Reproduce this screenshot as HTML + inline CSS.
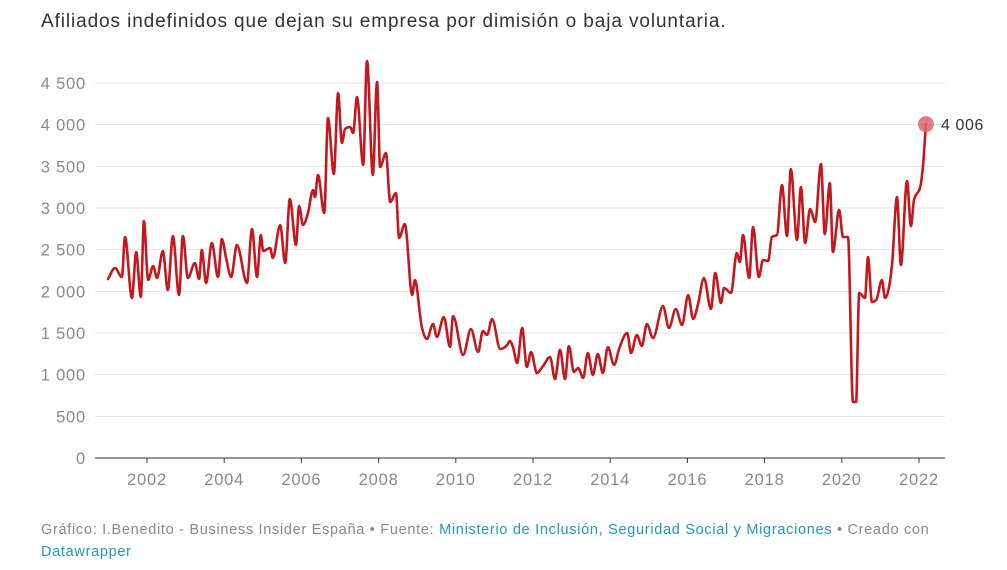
<!DOCTYPE html>
<html><head><meta charset="utf-8"><style>
body{margin:0;background:#fff;font-family:"Liberation Sans",Arial,sans-serif;}
#wrap{position:relative;width:1007px;height:570px;overflow:hidden;}
.title{position:absolute;left:41px;top:11px;font-size:19px;color:#333;letter-spacing:0.9px;white-space:nowrap;}
.foot{position:absolute;left:41px;top:519px;font-size:14.5px;color:#888;line-height:22px;width:920px;letter-spacing:0.7px;}
.foot a{color:#1e9bb3;text-decoration:none;}
</style></head><body>
<div id="wrap">
<div class="title">Afiliados indefinidos que dejan su empresa por dimisión o baja voluntaria.</div>
<svg id="chart" width="1007" height="570" style="position:absolute;left:0;top:0"></svg>
<div class="foot">Gráfico: I.Benedito - Business Insider España • Fuente: <a>Ministerio de Inclusión, Seguridad Social y Migraciones</a> • Creado con <a>Datawrapper</a></div>
</div>
<script>
const yTicks=[0,500,1000,1500,2000,2500,3000,3500,4000,4500];
const yTickLabels=["0","500","1 000","1 500","2 000","2 500","3 000","3 500","4 000","4 500"];
const xTicks=[2002,2004,2006,2008,2010,2012,2014,2016,2018,2020,2022];
const dates=[2000.99,2001.17,2001.35,2001.43,2001.61,2001.72,2001.84,2001.92,2002.03,2002.16,2002.26,2002.41,2002.54,2002.67,2002.83,2002.93,2003.06,2003.24,2003.35,2003.42,2003.53,2003.68,2003.84,2003.94,2004.05,2004.18,2004.33,2004.59,2004.72,2004.85,2004.95,2005.01,2005.19,2005.26,2005.45,2005.58,2005.70,2005.86,2005.94,2006.04,2006.17,2006.30,2006.35,2006.43,2006.59,2006.69,2006.84,2006.95,2007.05,2007.13,2007.26,2007.34,2007.44,2007.60,2007.70,2007.85,2007.96,2008.04,2008.19,2008.30,2008.45,2008.53,2008.68,2008.87,2008.94,2009.12,2009.25,2009.41,2009.51,2009.69,2009.85,2009.93,2010.19,2010.39,2010.58,2010.70,2010.81,2010.94,2011.15,2011.33,2011.40,2011.48,2011.59,2011.72,2011.84,2011.95,2012.10,2012.26,2012.44,2012.57,2012.70,2012.83,2012.93,2013.06,2013.17,2013.30,2013.42,2013.55,2013.68,2013.81,2013.94,2014.10,2014.23,2014.44,2014.54,2014.69,2014.82,2014.95,2015.11,2015.37,2015.52,2015.70,2015.86,2016.02,2016.15,2016.27,2016.43,2016.61,2016.72,2016.87,2016.95,2017.13,2017.28,2017.36,2017.44,2017.60,2017.70,2017.85,2017.96,2018.09,2018.19,2018.32,2018.45,2018.58,2018.68,2018.84,2018.94,2019.05,2019.18,2019.31,2019.46,2019.56,2019.69,2019.77,2019.93,2020.03,2020.16,2020.29,2020.37,2020.45,2020.60,2020.68,2020.78,2020.89,2021.04,2021.12,2021.30,2021.43,2021.53,2021.69,2021.79,2021.87,2022.03,2022.10,2022.18];
const values=[2148,2280,2172,2652,1920,2472,1932,2844,2136,2304,2160,2484,2016,2664,1956,2664,2160,2340,2148,2496,2100,2580,2172,2628,2400,2172,2556,2100,2748,2172,2676,2484,2520,2400,2796,2340,3108,2556,3024,2796,2940,3216,3132,3396,2940,4080,3408,4380,3780,3948,3972,3900,4332,3516,4764,3396,4512,3492,3660,3072,3180,2640,2808,1956,2136,1572,1428,1608,1452,1692,1332,1704,1236,1548,1272,1524,1476,1668,1308,1356,1404,1332,1140,1560,1092,1272,1020,1104,1212,948,1296,948,1344,1032,1080,960,1260,996,1248,1020,1332,1116,1308,1500,1260,1476,1344,1608,1440,1824,1560,1788,1596,1956,1668,1836,2160,1788,2220,1860,2040,1980,2460,2352,2676,2160,2772,2172,2376,2364,2652,2676,3276,2664,3468,2616,3252,2580,2988,2832,3528,2688,3300,2472,2976,2652,2652,672,672,1980,1920,2412,1872,1896,2136,1920,2316,3132,2316,3324,2784,3096,3252,3492,4006];
const lastLabel="4 006";
const svg=document.getElementById('chart');
const NS="http://www.w3.org/2000/svg";
const xS=d=>147+(d-2002)*38.6;
const yS=v=>458-v*(375/4500);
function mk(t,a){const e=document.createElementNS(NS,t);for(const k in a)e.setAttribute(k,a[k]);svg.appendChild(e);return e;}
yTicks.forEach((v,i)=>{
  const l=mk('line',{x1:95,x2:945,y1:yS(v),y2:yS(v),stroke:v===0?'#333':'#e3e3e3','stroke-width':1});
  
  
  const t=mk('text',{x:86,y:yS(v)+6,'text-anchor':'end','font-size':16.5,'letter-spacing':0.8,fill:'#8a8a8a','font-family':'Liberation Sans, sans-serif'});
  t.textContent=yTickLabels[i];
  
  
});
xTicks.forEach(y=>{
  const tk=mk('line',{x1:xS(y),x2:xS(y),y1:458,y2:463,stroke:'#333','stroke-width':1});
  
  
  const t=mk('text',{x:xS(y),y:485,'text-anchor':'middle','font-size':16.5,'letter-spacing':0.8,fill:'#8a8a8a','font-family':'Liberation Sans, sans-serif'});
  t.textContent=y;
  
  
});
// monotone-x cubic interpolation (no overshoot)
const P=dates.map((d,i)=>[xS(d),yS(values[i])]);
const N=P.length;
const sl=[];for(let i=0;i<N-1;i++)sl.push((P[i+1][1]-P[i][1])/(P[i+1][0]-P[i][0]));
const m=[];
for(let i=0;i<N;i++){
  if(i===0)m.push(sl[0]);else if(i===N-1)m.push(sl[N-2]);
  else{const a=sl[i-1],b=sl[i];
    if(a*b<=0)m.push(0);
    else{const h0=P[i][0]-P[i-1][0],h1=P[i+1][0]-P[i][0];
      const p=(a*h1+b*h0)/(h0+h1);
      m.push((Math.sign(a)+Math.sign(b))*Math.min(Math.abs(a),Math.abs(b),0.5*Math.abs(p)));}}
}
let dstr='M'+P[0][0].toFixed(1)+','+P[0][1].toFixed(1);
for(let i=0;i<N-1;i++){
  const h=(P[i+1][0]-P[i][0])/3;
  dstr+=' C'+(P[i][0]+h).toFixed(1)+','+(P[i][1]+m[i]*h).toFixed(1)+' '+(P[i+1][0]-h).toFixed(1)+','+(P[i+1][1]-m[i+1]*h).toFixed(1)+' '+P[i+1][0].toFixed(1)+','+P[i+1][1].toFixed(1);
}
const line=mk('path',{d:dstr,fill:'none',stroke:'#c2191f','stroke-width':2.6,'stroke-linejoin':'round','stroke-linecap':'round'});


const n=dates.length-1;
const dot=mk('circle',{cx:xS(dates[n]),cy:yS(values[n]),r:8,fill:'#d9666a','fill-opacity':0.85});


const lt=mk('text',{x:xS(dates[n])+15,y:yS(values[n])+6,'font-size':16,'letter-spacing':0.6,fill:'#333','font-family':'Liberation Sans, sans-serif'});
lt.textContent=lastLabel;


</script>
</body></html>
